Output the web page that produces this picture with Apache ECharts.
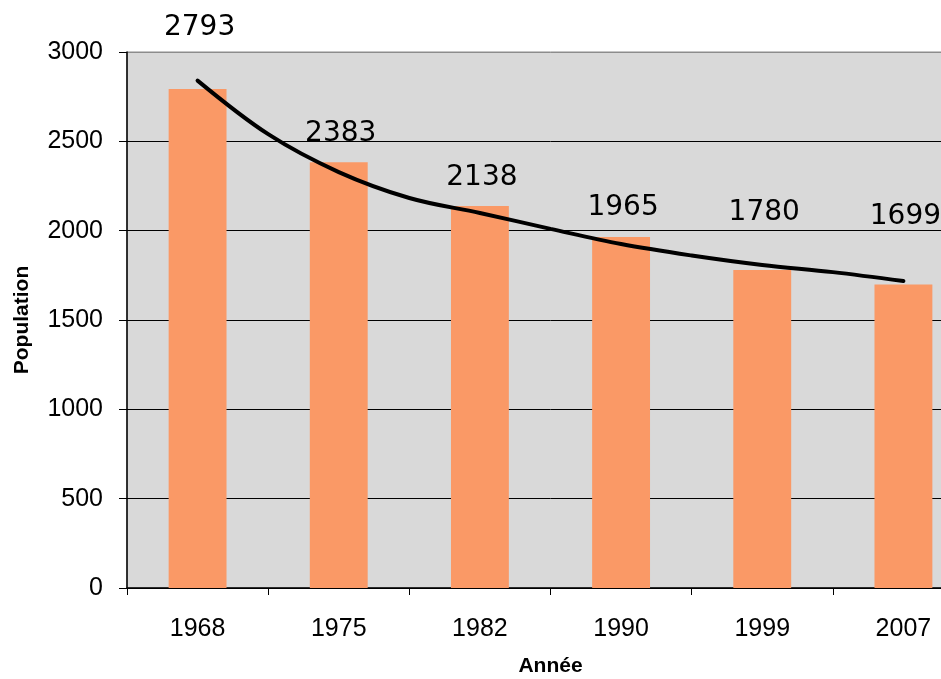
<!DOCTYPE html>
<html><head><meta charset="utf-8">
<script src="https://cdn.jsdelivr.net/npm/echarts@6/dist/echarts.min.js"></script>
<style>html,body{margin:0;padding:0;background:#fff;overflow:hidden}#c{width:980px;height:679px}</style>
</head><body><div id="c"></div>
<script>
const years = ['1968','1975','1982','1990','1999','2007'];
const population = [2793, 2383, 2138, 1965, 1780, 1699];
// trend curve, at positions in category units (1 = 1968 ... 6 = 2007)
const trendPos = [1, 1.5, 2, 2.5, 3, 3.5, 4, 4.5, 5, 5.5, 6];
const trendVal = [2840, 2540, 2328, 2183, 2099, 2010, 1925, 1861, 1808, 1768, 1718];
const yTicks = [0, 500, 1000, 1500, 2000, 2500, 3000];
// label vertical offsets (styling only)
const labelDy = [-42, -10, -9, -10, -38, -49];

const chart = echarts.init(document.getElementById('c'));
chart.setOption({
  animation: false,
  backgroundColor: '#fff',
  grid: { left: 127, top: 52, width: 847, height: 536, outerBoundsMode: 'none', containLabel: false, show: true, backgroundColor: '#d9d9d9', borderColor: '#8c8c8c', borderWidth: 1 },
  xAxis: [{
    type: 'category', data: years,
    name: 'Année', nameLocation: 'middle', nameGap: 68,
    nameTextStyle: { fontFamily: 'Liberation Sans', fontWeight: 'bold', fontSize: 21, color: '#000' },
    axisLine: { lineStyle: { color: '#000', width: 1.5 } },
    axisTick: { show: true, length: 7, lineStyle: { color: '#000' } },
    axisLabel: { fontFamily: 'Liberation Sans', fontSize: 25, color: '#000', margin: 29 }
  }, {
    type: 'value', min: 0.5, max: 6.5, show: false, position: 'bottom'
  }],
  yAxis: {
    type: 'value', min: yTicks[0], max: yTicks[yTicks.length-1], interval: 500,
    name: 'Population', nameLocation: 'middle', nameGap: 94, nameRotate: 90,
    nameTextStyle: { fontFamily: 'Liberation Sans', fontWeight: 'bold', fontSize: 21, color: '#000' },
    axisLine: { show: true, lineStyle: { color: '#000', width: 1.5 } },
    axisTick: { show: true, length: 8, lineStyle: { color: '#000' } },
    axisLabel: { fontFamily: 'Liberation Sans', fontSize: 25, color: '#000', margin: 24, formatter: v => String(v) },
    splitLine: { show: true, lineStyle: { color: ['#000','#000','#000','#000','#000','#000','#8c8c8c'], width: 1 } }
  },
  series: [
    {
      type: 'bar', barWidth: '41%', xAxisIndex: 0,
      itemStyle: { color: '#fa9966' },
      data: population.map((v, i) => ({
        value: v,
        label: { show: true, position: 'top', offset: [2, labelDy[i]], fontFamily: 'DejaVu Sans', fontSize: 28, color: '#000' }
      }))
    },
    {
      type: 'line', xAxisIndex: 1, data: trendPos.map((p, i) => [p, trendVal[i]]), smooth: 0.35, symbol: 'none',
      lineStyle: { color: '#000', width: 4, cap: 'round' }, z: 5
    }
  ]
});
</script></body></html>
